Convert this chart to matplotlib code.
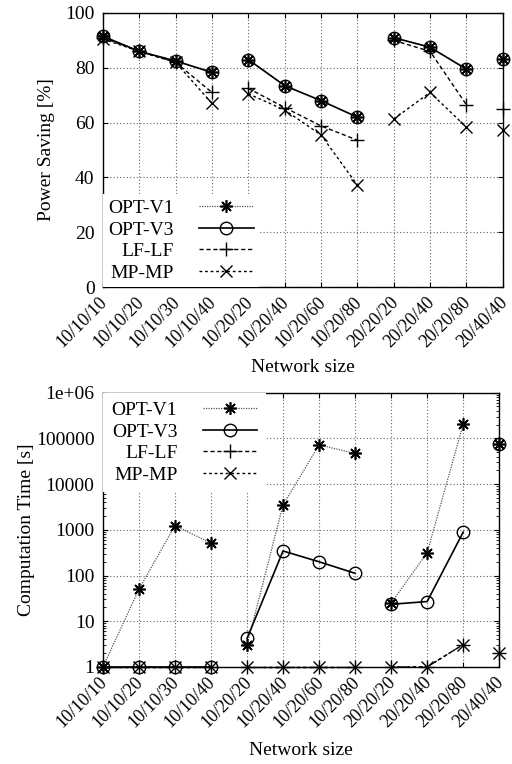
import numpy as np
import matplotlib
matplotlib.use("Agg")
import matplotlib.pyplot as plt
import matplotlib.transforms as mtransforms
from matplotlib.ticker import FixedLocator, FuncFormatter, LogLocator, NullFormatter

plt.rcParams['font.family'] = ['Liberation Serif', 'DejaVu Serif']

categories = ["10/10/10", "10/10/20", "10/10/30", "10/10/40",
              "10/20/20", "10/20/40", "10/20/60", "10/20/80",
              "20/20/20", "20/20/40", "20/20/80", "20/40/40"]
groups = [(0, 4), (4, 8), (8, 11), (11, 12)]

# Power saving [%]
ps_opt_v1 = [91.5, 86, 82.5, 78.5, 83, 73.5, 68, 62, 91, 87.5, 79.5, 83.3]
ps_opt_v3 = [91.5, 86, 82.5, 78.3, 83, 73.5, 68, 62, 91, 87.5, 79.5, 83.3]
ps_lf_lf = [91, 86, 82, 71, 72.5, 65.5, 58.8, 53.6, 90, 86, 66.5, 65]
ps_mp_mp = [90.5, 86, 82, 67, 70.5, 64.6, 55.5, 37.2, 61.3, 71, 58.3, 57.3]

# Computation time [s]
ct_opt_v1 = [1, 50, 1240, 510, 3, 3500, 72000, 47000, 25, 316, 205000, 75000]
ct_opt_v3 = [1, 1, 1, 1, 4.2, 345, 200, 112, 23.5, 27, 890, 75000]
ct_lf_lf = [1, 1, 1, 1, 1, 1, 1, 1, 1, 1, 3.1, 2.05]
ct_mp_mp = [1, 1, 1, 1, 1, 1, 1, 1, 1, 1, 3.1, 2.05]

series_names = ["OPT-V1", "OPT-V3", "LF-LF", "MP-MP"]
styles = [
    dict(color="#555555", ls=(0, (1, 1)), lw=0.9, marker=(8, 2, 0), ms=9, mec="black", mew=1.2, mfc="none"),
    dict(color="black", ls="-", lw=1.2, marker="o", ms=9, mec="black", mew=1.0, mfc="none"),
    dict(color="black", ls=(0, (3, 2)), lw=1.0, marker="+", ms=10, mec="black", mew=1.0),
    dict(color="black", ls=(0, (2, 2)), lw=1.0, marker="x", ms=8, mec="black", mew=1.0),
]

FS = 14
XFS = 13

fig = plt.figure(figsize=(5.12, 7.64), dpi=100)
ax1 = fig.add_axes([0.201, 0.6243, 0.781, 0.3587])
ax2 = fig.add_axes([0.201, 0.127, 0.774, 0.359])

x = np.arange(len(categories))


def draw(ax, data_list):
    handles = []
    for name, data, st in zip(series_names, data_list, styles):
        h = None
        for (a, b) in groups:
            ln, = ax.plot(x[a:b], data[a:b], **st, zorder=3, clip_on=False)
            if h is None:
                h = ln
        handles.append(h)
    return handles


def style_axes(ax, label_y):
    ax.set_xlim(0, len(categories) - 1)
    ax.set_xticks(x)
    ax.set_xticklabels(categories, rotation=45, ha="right", rotation_mode="anchor", fontsize=XFS)
    ax.tick_params(axis="both", which="both", direction="in", top=True, right=True, labelsize=FS)
    ax.tick_params(axis="x", labelsize=XFS, pad=5)
    ax.tick_params(axis="y", pad=6)
    ax.grid(True, which="major", color="#666666", ls=(0, (1, 2)), lw=0.8)
    ax.set_xlabel("Network size", fontsize=FS, va="top")
    ax.xaxis.set_label_coords(0.5, label_y)
    off = mtransforms.ScaledTranslation(-3 / 72, 0, fig.dpi_scale_trans)
    for lab in ax.get_xticklabels():
        lab.set_transform(lab.get_transform() + off)
    for sp in ax.spines.values():
        sp.set_linewidth(1.0)


def make_legend(ax, handles, loc, bpad):
    leg = ax.legend(handles, series_names, loc=loc, markerfirst=False, frameon=True,
                    fontsize=FS, handlelength=2.8, handletextpad=1.3, labelspacing=0.2,
                    borderaxespad=0.0, borderpad=bpad, fancybox=False)
    fr = leg.get_frame()
    fr.set_edgecolor("none")
    fr.set_facecolor("white")
    fr.set_alpha(1.0)
    leg.set_zorder(5)
    return leg


h1 = draw(ax1, [ps_opt_v1, ps_opt_v3, ps_lf_lf, ps_mp_mp])
ax1.set_ylim(0, 100)
ax1.set_yticks([0, 20, 40, 60, 80, 100])
style_axes(ax1, -0.262)
ax1.set_ylabel("Power Saving [%]", fontsize=FS, labelpad=7)
make_legend(ax1, h1, "lower left", 0.28)

h2 = draw(ax2, [ct_opt_v1, ct_opt_v3, ct_lf_lf, ct_mp_mp])
ax2.set_yscale("log")
ax2.set_ylim(1, 1e6)
ax2.yaxis.set_major_locator(FixedLocator([1, 10, 100, 1000, 10000, 100000, 1e6]))
ax2.yaxis.set_major_formatter(FuncFormatter(lambda v, p: "1e+06" if v >= 1e6 else "%d" % round(v)))
ax2.yaxis.set_minor_locator(LogLocator(base=10, subs=np.arange(2, 10)))
ax2.yaxis.set_minor_formatter(NullFormatter())
style_axes(ax2, -0.274)
ax2.set_ylabel("Computation Time [s]", fontsize=FS, labelpad=1)
make_legend(ax2, h2, "upper left", 0.45)

fig.savefig("out.png", dpi=100)
